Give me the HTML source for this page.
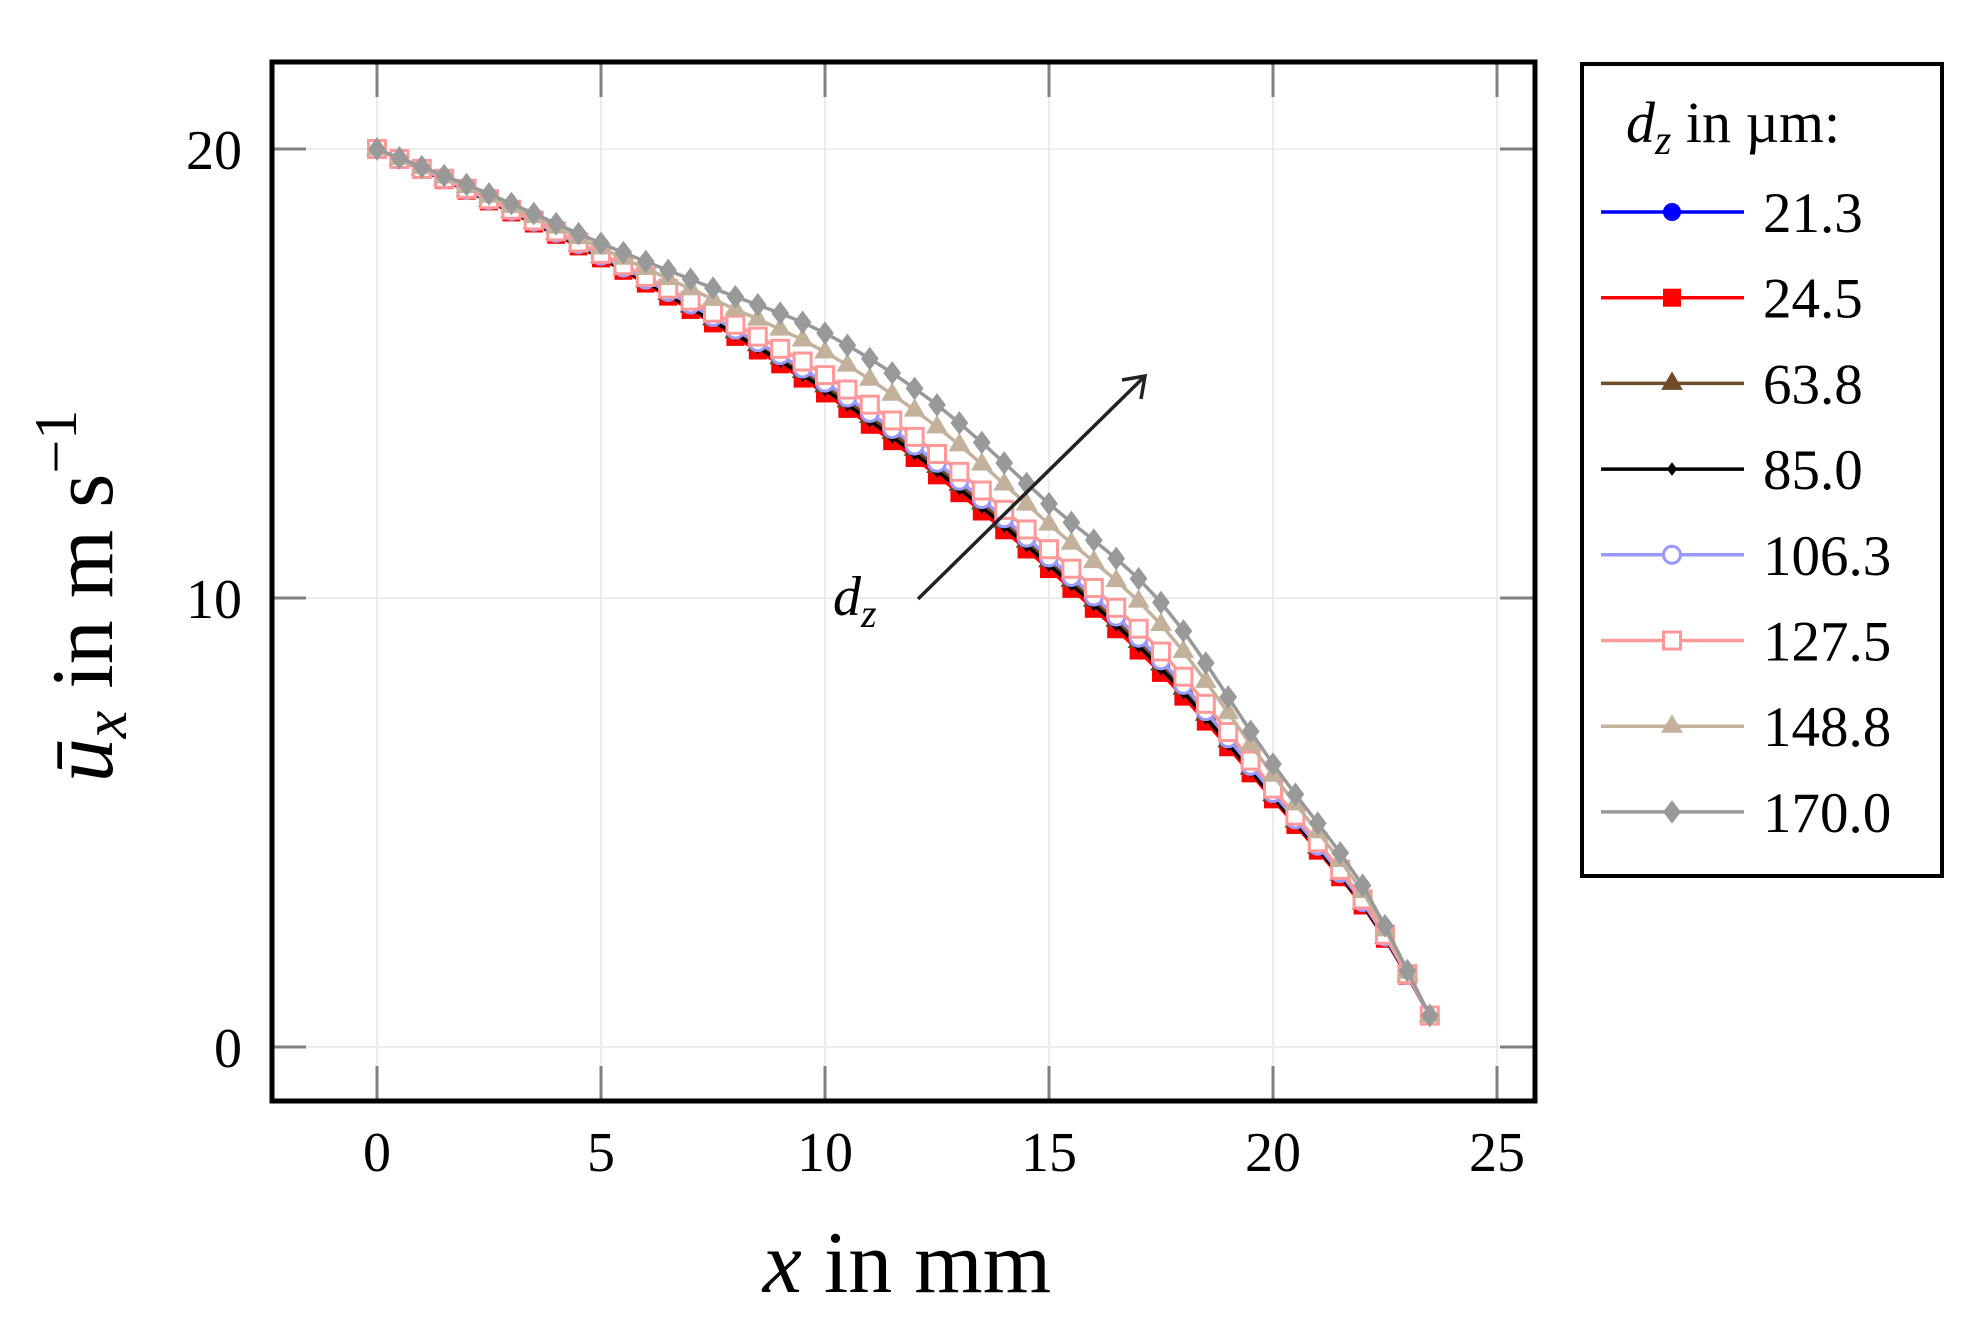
<!DOCTYPE html>
<html><head><meta charset="utf-8"><style>
html,body{margin:0;padding:0;background:#fff;}
svg{display:block;font-family:"Liberation Serif",serif;}
</style></head><body>
<svg id="s" width="1979" height="1320" viewBox="0 0 1979 1320" xmlns="http://www.w3.org/2000/svg">
<rect width="1979" height="1320" fill="#fff"/>
<g id="grid" stroke="#ececec" stroke-width="2">
<line x1="377" y1="62" x2="377" y2="1101"/><line x1="601" y1="62" x2="601" y2="1101"/><line x1="825" y1="62" x2="825" y2="1101"/><line x1="1049" y1="62" x2="1049" y2="1101"/><line x1="1273" y1="62" x2="1273" y2="1101"/><line x1="1497" y1="62" x2="1497" y2="1101"/>
<line x1="271" y1="149" x2="1535" y2="149"/><line x1="271" y1="598" x2="1535" y2="598"/><line x1="271" y1="1047" x2="1535" y2="1047"/>
</g>
<g stroke="#808080" stroke-width="3">
<line x1="377" y1="1101" x2="377" y2="1066"/><line x1="601" y1="1101" x2="601" y2="1066"/><line x1="825" y1="1101" x2="825" y2="1066"/><line x1="1049" y1="1101" x2="1049" y2="1066"/><line x1="1273" y1="1101" x2="1273" y2="1066"/><line x1="1497" y1="1101" x2="1497" y2="1066"/>
<line x1="377" y1="62" x2="377" y2="97"/><line x1="601" y1="62" x2="601" y2="97"/><line x1="825" y1="62" x2="825" y2="97"/><line x1="1049" y1="62" x2="1049" y2="97"/><line x1="1273" y1="62" x2="1273" y2="97"/><line x1="1497" y1="62" x2="1497" y2="97"/>
<line x1="271" y1="149" x2="306" y2="149"/><line x1="271" y1="598" x2="306" y2="598"/><line x1="271" y1="1047" x2="306" y2="1047"/>
<line x1="1535" y1="149" x2="1500" y2="149"/><line x1="1535" y1="598" x2="1500" y2="598"/><line x1="1535" y1="1047" x2="1500" y2="1047"/>
</g>
<g id="data"></g>
<rect x="272" y="62" width="1263" height="1039" fill="none" stroke="#000" stroke-width="5"/>
<g font-size="56" fill="#000">
<text x="242" y="169" text-anchor="end">20</text>
<text x="242" y="618" text-anchor="end">10</text>
<text x="242" y="1067" text-anchor="end">0</text>
<g text-anchor="middle">
<text x="377" y="1171">0</text><text x="601" y="1171">5</text><text x="825" y="1171">10</text><text x="1049" y="1171">15</text><text x="1273" y="1171">20</text><text x="1497" y="1171">25</text>
</g>
</g>
<text x="907" y="1292" font-size="88" text-anchor="middle"><tspan font-style="italic">x</tspan> in mm</text>
<text transform="translate(112,596) rotate(-90)" font-size="88" text-anchor="middle"><tspan font-style="italic">ū</tspan><tspan font-style="italic" font-size="62" dy="14">x</tspan><tspan dy="-14"> in m s</tspan><tspan font-size="60" dy="-36">−1</tspan></text>
<line x1="918" y1="599" x2="1144" y2="377" stroke="#222" stroke-width="3.5"/>
<path d="M1122,380 L1145,376 L1141,399" fill="none" stroke="#222" stroke-width="3.5"/>
<text x="833" y="615" font-size="56" font-style="italic">d<tspan font-size="40" dy="12">z</tspan></text>
<rect x="1582" y="64" width="360" height="812" fill="#fff" stroke="#000" stroke-width="4"/>
<text x="1626" y="142" font-size="58"><tspan font-style="italic">d</tspan><tspan font-style="italic" font-size="42" dy="12">z</tspan><tspan dy="-12"> in µm:</tspan></text>
<g id="leg"></g>
</svg>
<script>
var ns="http://www.w3.org/2000/svg";
function X(v){return 377+v*44.8;}
function Y(v){return 1047-v*44.9;}
var kx=[0,2.5,5,7.5,10,12.5,15,17.5,20,22,23,23.5];
var base=[20,18.85,17.6,16.2,14.7,12.9,10.8,8.5,5.6,3.2,1.6,0.7];
var top_=[20,19.0,17.9,16.9,15.9,14.3,12.1,9.9,6.3,3.6,1.7,0.7];
function interp(arr,x){
 var n=kx.length,i=0;
 while(i<n-2&&x>kx[i+1])i++;
 var x0=kx[i],x1=kx[i+1],y0=arr[i],y1=arr[i+1];
 var m0=i>0?(arr[i+1]-arr[i-1])/(kx[i+1]-kx[i-1]):(y1-y0)/(x1-x0);
 var m1=i<n-2?(arr[i+2]-arr[i])/(kx[i+2]-kx[i]):(y1-y0)/(x1-x0);
 var h=x1-x0,t=(x-x0)/h,t2=t*t,t3=t2*t;
 return (2*t3-3*t2+1)*y0+(t3-2*t2+t)*h*m0+(-2*t3+3*t2)*y1+(t3-t2)*h*m1;
}
var S=[
 {c:"#0000ff",f:0,m:"circle",fill:1},
 {c:"#ff0000",f:-0.12,m:"square",fill:1},
 {c:"#704b28",f:0.02,m:"tri",fill:1},
 {c:"#000000",f:-0.05,m:"diamond",fill:1,small:1},
 {c:"#9999ff",f:0.08,m:"circle",fill:0},
 {c:"#ff9999",f:0.22,m:"square",fill:0},
 {c:"#c3b19c",f:0.65,m:"tri",fill:1},
 {c:"#999999",f:1,m:"diamond",fill:1}
];
function marker(g,s,x,y){
 var e,fc=s.fill?s.c:"#fff";
 if(s.m=="circle"){e=document.createElementNS(ns,"circle");e.setAttribute("cx",x);e.setAttribute("cy",y);e.setAttribute("r",8.5);}
 else if(s.m=="square"){e=document.createElementNS(ns,"rect");e.setAttribute("x",x-8.5);e.setAttribute("y",y-8.5);e.setAttribute("width",17);e.setAttribute("height",17);}
 else if(s.m=="tri"){e=document.createElementNS(ns,"path");e.setAttribute("d","M"+x+","+(y-11)+"L"+(x+10)+","+(y+6)+"L"+(x-10)+","+(y+6)+"Z");}
 else {var r=s.small?6:11;e=document.createElementNS(ns,"path");e.setAttribute("d","M"+x+","+(y-r)+"L"+(x+r*0.75)+","+y+"L"+x+","+(y+r)+"L"+(x-r*0.75)+","+y+"Z");}
 e.setAttribute("fill",fc);e.setAttribute("stroke",s.c);e.setAttribute("stroke-width",s.fill?1:3);
 g.appendChild(e);
}
var dg=document.getElementById("data");
S.forEach(function(s){
 var pts=[],d="";
 for(var i=0;i<=47;i++){var x=i*0.5;var b=interp(base,x),t=interp(top_,x);var v=b+s.f*(t-b);pts.push([X(x),Y(v)]);}
 pts.forEach(function(p,i){d+=(i?"L":"M")+p[0].toFixed(1)+","+p[1].toFixed(1);});
 var p=document.createElementNS(ns,"path");p.setAttribute("d",d);p.setAttribute("fill","none");p.setAttribute("stroke",s.c);p.setAttribute("stroke-width",3.5);dg.appendChild(p);
 pts.forEach(function(q){marker(dg,s,q[0],q[1]);});
});
var lg=document.getElementById("leg");
var labs=["21.3","24.5","63.8","85.0","106.3","127.5","148.8","170.0"];
S.forEach(function(s,i){
 var y=212+i*85.7;
 var l=document.createElementNS(ns,"line");l.setAttribute("x1",1601);l.setAttribute("x2",1744);l.setAttribute("y1",y);l.setAttribute("y2",y);l.setAttribute("stroke",s.c);l.setAttribute("stroke-width",3.5);lg.appendChild(l);
 marker(lg,s,1672,y);
 var t=document.createElementNS(ns,"text");t.setAttribute("x",1763);t.setAttribute("y",y+20);t.setAttribute("font-size",57);t.textContent=labs[i];lg.appendChild(t);
});
</script>
</body></html>
